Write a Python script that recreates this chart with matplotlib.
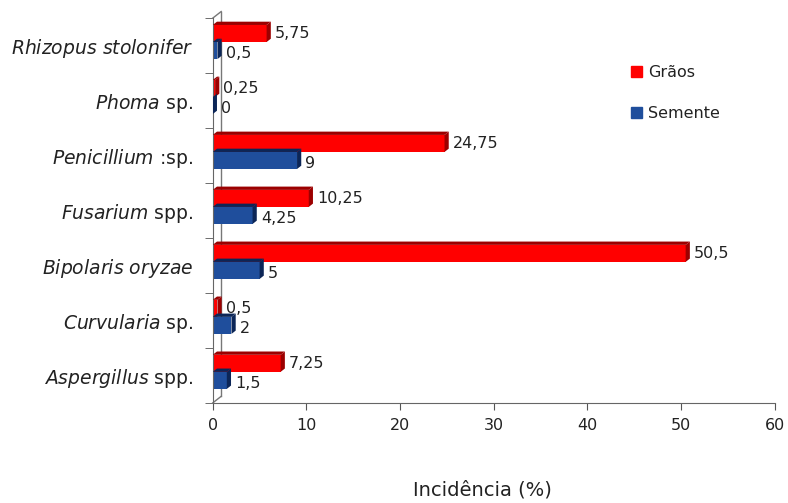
import matplotlib.pyplot as plt
from matplotlib.patches import Polygon, Patch
import numpy as np

plt.rcParams['font.family'] = ['DejaVu Sans']
plt.rcParams['mathtext.fontset'] = 'custom'
plt.rcParams['mathtext.it'] = 'DejaVu Sans:italic'
plt.rcParams['mathtext.rm'] = 'DejaVu Sans'

# categorias de baixo para cima
fungos = [r'$\mathit{Aspergillus}$ spp.', r'$\mathit{Curvularia}$ sp.',
          r'$\mathit{Bipolaris\ oryzae}$', r'$\mathit{Fusarium}$ spp.',
          r'$\mathit{Penicillium}$ :sp.', r'$\mathit{Phoma}$ sp.',
          r'$\mathit{Rhizopus\ stolonifer}$']
graos = [7.25, 0.5, 50.5, 10.25, 24.75, 0.25, 5.75]
semente = [1.5, 2, 5, 4.25, 9, 0, 0.5]
xticks = [0, 10, 20, 30, 40, 50, 60]

vermelho, vermelho_esc = '#ff0000', '#9c0000'
azul, azul_esc = '#1f4e9c', '#0c2657'
texto = '#222222'

fig = plt.figure(figsize=(7.88, 5.03), dpi=100)
ax = fig.add_axes([0.270, 0.199, 0.713, 0.765])

y = np.arange(len(fungos))
h = 0.31
dx, dy = 0.45, 0.06


def barras_3d(vals, off, cor, cor_esc):
    ax.barh(y + off, vals, height=h, color=cor, edgecolor='none', zorder=2)
    for yi, v in zip(y + off, vals):
        # face lateral escurecida no fim da barra
        lado = [(v, yi - h / 2), (v + dx, yi - h / 2 + dy),
                (v + dx, yi + h / 2 + dy), (v, yi + h / 2)]
        ax.add_patch(Polygon(lado, closed=True, color=cor_esc, zorder=3, lw=0))
        topo = [(0, yi + h / 2), (v, yi + h / 2),
                (v + dx, yi + h / 2 + dy), (dx, yi + h / 2 + dy)]
        ax.add_patch(Polygon(topo, closed=True, color=cor_esc, zorder=3, lw=0))


barras_3d(graos, 0.22, vermelho, vermelho_esc)
barras_3d(semente, -0.09, azul, azul_esc)

rot = lambda v: ('%g' % v).replace('.', ',')
for yi, v in zip(y, graos):
    ax.annotate(rot(v), (v, yi + 0.22), xytext=(6, 0), textcoords='offset points',
                va='center', ha='left', fontsize=11.5, color=texto, zorder=5)
for yi, v in zip(y, semente):
    ax.annotate(rot(v), (v, yi - 0.09), xytext=(6, -2), textcoords='offset points',
                va='center', ha='left', fontsize=11.5, color=texto, zorder=5)

ax.set_xlim(0, 60)
ax.set_ylim(-0.5, len(fungos) - 0.5)
ax.set_xticks(xticks)
ax.set_xticklabels([str(t) for t in xticks], fontsize=11.5, color=texto)
ax.set_yticks(y)
ax.set_yticklabels(fungos, fontsize=13.5, color=texto)
ax.set_yticks(np.arange(-0.5, len(fungos), 1), minor=True)
ax.tick_params(axis='y', which='major', length=0, pad=14)
ax.tick_params(axis='y', which='minor', length=6, color='#555555')
ax.tick_params(axis='x', length=5, color='#555555', pad=6)

for s in ['top', 'right']:
    ax.spines[s].set_visible(False)
ax.spines['left'].set_color('#666666')
ax.spines['bottom'].set_color('#666666')

# parede lateral do eixo
ax.plot([dx * 2, dx * 2], [-0.5 + 0.12, len(fungos) - 0.5 + 0.12], color='#777777',
        lw=1, zorder=1, clip_on=False)
ax.plot([0, dx * 2], [-0.5, -0.5 + 0.12], color='#777777', lw=1, clip_on=False)
ax.plot([0, dx * 2], [len(fungos) - 0.5, len(fungos) - 0.5 + 0.12], color='#777777',
        lw=1, clip_on=False)

ax.legend(handles=[Patch(color=vermelho, label='Grãos'), Patch(color=azul, label='Semente')],
          loc='upper left', bbox_to_anchor=(0.718, 0.915), frameon=False,
          handlelength=0.7, handleheight=0.7, handletextpad=0.4,
          labelspacing=1.6, fontsize=11.5, labelcolor=texto)

fig.text(482 / 788, 1 - 490 / 503, 'Incidência (%)', ha='center', va='center',
         fontsize=14, color=texto)

fig.savefig('out.png', dpi=100)
